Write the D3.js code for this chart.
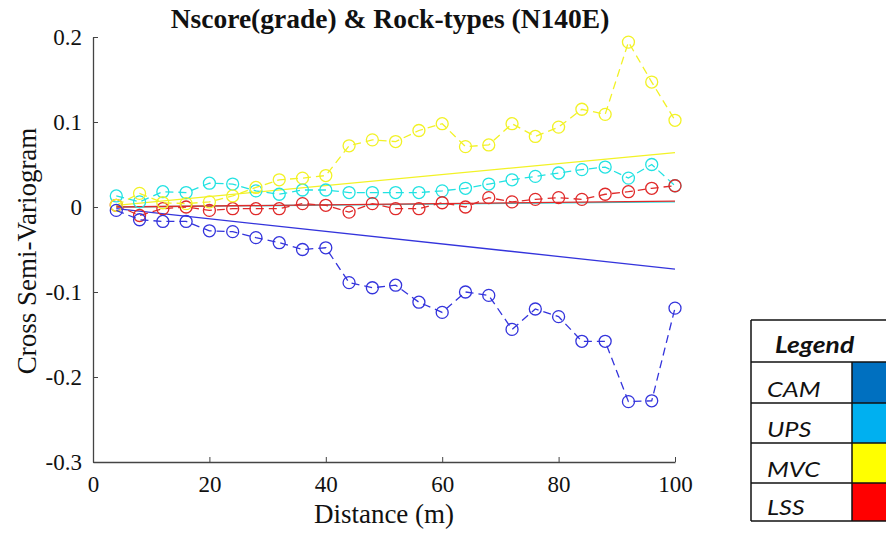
<!DOCTYPE html>
<html><head><meta charset="utf-8">
<script src="https://cdn.jsdelivr.net/npm/d3@7"></script>
<style>body{margin:0;background:#fff}svg{display:block}</style>
</head><body>
<svg id="c" width="886" height="533"></svg>
<script>
const lags = [4,8,12,16,20,24,28,32,36,40,44,48,52,56,60,64,68,72,76,80,84,88,92,96,100];
const camExp = [-0.004,-0.015,-0.017,-0.017,-0.028,-0.029,-0.036,-0.042,-0.050,-0.048,-0.089,-0.095,-0.092,-0.112,-0.124,-0.100,-0.104,-0.144,-0.120,-0.129,-0.158,-0.158,-0.229,-0.228,-0.119];
const upsExp = [0.013,0.006,0.018,0.017,0.028,0.027,0.019,0.015,0.020,0.020,0.017,0.017,0.017,0.017,0.019,0.022,0.027,0.032,0.036,0.040,0.044,0.047,0.034,0.050,0.025];
const mvcExp = [0.002,0.016,0.005,0.004,0.006,0.013,0.023,0.032,0.034,0.037,0.072,0.079,0.077,0.090,0.098,0.071,0.073,0.098,0.083,0.094,0.115,0.109,0.194,0.147,0.102];
const lssExp = [0.002,-0.010,-0.002,0.000,-0.004,-0.002,-0.002,-0.002,0.004,0.002,-0.006,0.004,-0.002,-0.002,0.005,0.000,0.011,0.006,0.009,0.011,0.009,0.015,0.018,0.022,0.025];
const modelX = [4,100];
const camModel = [-0.002,-0.073];
const upsModel = [0.000,0.006];
const mvcModel = [0.002,0.064];
const lssModel = [0.000,0.007];
const xTicks = [0,20,40,60,80,100];
const yTicks = [0.2,0.1,0,-0.1,-0.2,-0.3];
const legendNames = ["CAM","UPS","MVC","LSS"];
const legendColors = ["#0070C0","#00B0F0","#FFFF00","#FF0000"];
const lineColors = {CAM:"#3434dc",UPS:"#22e2e2",MVC:"#f2f226",LSS:"#e02a2a"};

const svg = d3.select("#c");
const x = d3.scaleLinear().domain([0,100]).range([93,675]);
const y = d3.scaleLinear().domain([-0.3,0.2]).range([462,37]);
const serif = "'Liberation Serif','Times New Roman',serif";

// Axes
const xAxis = d3.axisBottom(x).tickValues(xTicks).tickSizeInner(-5).tickSizeOuter(0).tickPadding(14).tickFormat(d3.format("d"));
const yAxis = d3.axisLeft(y).tickValues(yTicks).tickSizeInner(-5).tickSizeOuter(0).tickPadding(11)
  .tickFormat(d => d===0 ? "0" : d3.format(".1f")(d).replace("\u2212","-"));
const gx = svg.append("g").attr("transform","translate(0,462)").call(xAxis);
const gy = svg.append("g").attr("transform","translate(93,0)").call(yAxis);
[gx,gy].forEach(g=>{
  g.attr("font-family",serif).attr("font-size",23);
  g.selectAll("path").attr("stroke","#444").attr("stroke-width",1.3);
  g.selectAll("line").attr("stroke","#444");
  g.selectAll("text").attr("font-family",serif).attr("font-size",23).attr("fill","#111");
});

// series
const series = [
  {name:"UPS", exp:upsExp, model:upsModel},
  {name:"LSS", exp:lssExp, model:lssModel},
  {name:"MVC", exp:mvcExp, model:mvcModel},
  {name:"CAM", exp:camExp, model:camModel}
];
const line = d3.line();
const plot = svg.append("g");
series.forEach(s=>{
  plot.append("path")
    .attr("d", line(modelX.map((d,i)=>[x(d), y(s.model[i])])))
    .attr("fill","none").attr("stroke",lineColors[s.name]).attr("stroke-width",1.3);
});
series.forEach(s=>{
  const pts = lags.map((d,i)=>[x(d), y(s.exp[i])]);
  plot.append("path").attr("d", line(pts))
    .attr("fill","none").attr("stroke",lineColors[s.name]).attr("stroke-width",1.3)
    .attr("stroke-dasharray","8,5");
  plot.selectAll(null).data(pts).enter().append("circle")
    .attr("cx",d=>d[0]).attr("cy",d=>d[1]).attr("r",6)
    .attr("fill","none").attr("stroke",lineColors[s.name]).attr("stroke-width",1.3);
});

// Title and labels
svg.append("text").attr("x",390).attr("y",28).attr("text-anchor","middle")
  .attr("font-family",serif).attr("font-weight","bold").attr("font-size",27.5).attr("fill","#111")
  .text("Nscore(grade) & Rock-types (N140E)");
svg.append("text").attr("x",384).attr("y",523).attr("text-anchor","middle")
  .attr("font-family",serif).attr("font-size",27).attr("fill","#111").text("Distance (m)");
svg.append("text").attr("transform","translate(36,251) rotate(-90)").attr("text-anchor","middle")
  .attr("font-family",serif).attr("font-size",27).attr("fill","#111").text("Cross Semi-Variogram");

// Legend table
const lg = svg.append("g");
const lx0 = 751, lx1 = 852, lx2 = 900;
const rowsY = [320, 362, 403, 443, 483, 521];
const sans = "Lato,'Open Sans',sans-serif";
legendNames.forEach((n,i)=>{
  lg.append("rect").attr("x",lx1).attr("y",rowsY[i+1]).attr("width",lx2-lx1).attr("height",rowsY[i+2]-rowsY[i+1])
    .attr("fill",legendColors[i]);
  lg.append("text").attr("transform",`translate(767,${rowsY[i+2]-6}) scale(1.15,1)`)
    .attr("font-family",sans).attr("font-style","italic").attr("font-size",22).attr("fill","#111")
    .text(n);
});
lg.append("text").attr("transform","translate(775,353) scale(1.2,1)").attr("font-family",sans)
  .attr("font-style","italic").attr("font-weight","bold").attr("font-size",22).attr("fill","#111").text("Legend");
rowsY.forEach(yy=>{
  lg.append("line").attr("x1",lx0).attr("x2",lx2).attr("y1",yy).attr("y2",yy).attr("stroke","#111").attr("stroke-width",1.5);
});
lg.append("line").attr("x1",lx0).attr("x2",lx0).attr("y1",rowsY[0]).attr("y2",rowsY[5]).attr("stroke","#111").attr("stroke-width",1.5);
lg.append("line").attr("x1",lx1).attr("x2",lx1).attr("y1",rowsY[1]).attr("y2",rowsY[5]).attr("stroke","#111").attr("stroke-width",1.5);
</script>
</body></html>
